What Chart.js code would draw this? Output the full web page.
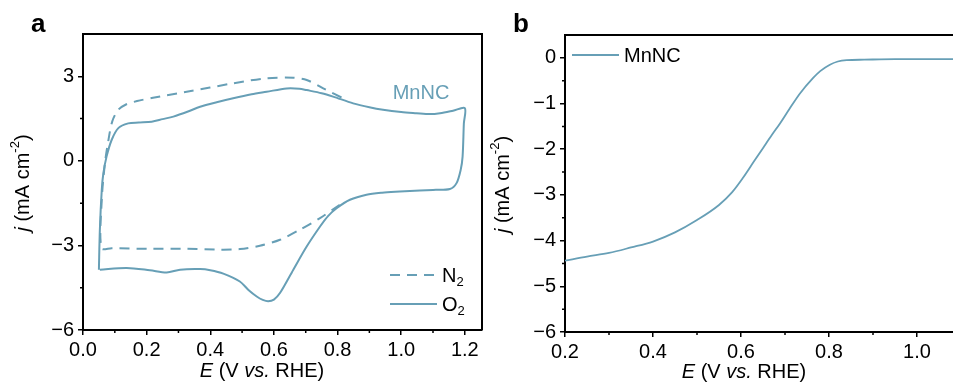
<!DOCTYPE html>
<html>
<head>
<meta charset="utf-8">
<script src="https://cdn.jsdelivr.net/npm/chart.js@4.4.1/dist/chart.umd.min.js"></script>
<style>
  html, body { margin: 0; padding: 0; background: #fff; overflow: hidden; width: 953px; height: 385px; }
  canvas { position: absolute; top: 0; }
  #cv { left: 0; }
  #lsv { left: 480px; }
</style>
</head>
<body>
<canvas id="cv" width="490" height="385"></canvas>
<canvas id="lsv" width="500" height="385"></canvas>
<script>
// Panel a: CV in O2 (closed loop)
const cvO2E = [0.050, 0.053, 0.059, 0.064, 0.074, 0.090, 0.111, 0.142, 0.175, 0.216, 0.250, 0.284, 0.330, 0.368, 0.420, 0.472, 0.530, 0.577, 0.640, 0.680, 0.703, 0.750, 0.786, 0.849, 0.900, 0.943, 1.000, 1.048, 1.090, 1.122, 1.163, 1.200,
               1.197, 1.193, 1.187, 1.174, 1.153, 1.100, 1.059, 0.996, 0.940, 0.891, 0.839, 0.797, 0.770, 0.745, 0.703, 0.661, 0.619, 0.600, 0.582, 0.565, 0.546, 0.520, 0.493, 0.441, 0.400, 0.368, 0.305, 0.263, 0.210, 0.137, 0.053];
const cvO2J = [-3.86, -2.44, -1.03, -0.44, 0.15, 0.74, 1.16, 1.33, 1.36, 1.39, 1.48, 1.57, 1.75, 1.92, 2.08, 2.22, 2.36, 2.45, 2.57, 2.56, 2.51, 2.40, 2.28, 2.04, 1.90, 1.81, 1.73, 1.69, 1.66, 1.69, 1.78, 1.87,
               1.33, 0.15, -0.32, -0.79, -1.00, -1.03, -1.05, -1.09, -1.13, -1.20, -1.38, -1.68, -1.96, -2.33, -3.04, -3.86, -4.69, -4.92, -4.98, -4.93, -4.81, -4.58, -4.28, -4.00, -3.88, -3.84, -3.86, -3.96, -3.88, -3.80, -3.86];

// Panel a: CV in N2 (only the part that differs from O2)
const cvN2E = [0.807, 0.745, 0.682, 0.619, 0.556, 0.493, 0.430, 0.326, 0.210, 0.090, 0.058, 0.059, 0.069, 0.080, 0.092, 0.110, 0.135, 0.170, 0.220, 0.326, 0.472, 0.577, 0.661, 0.703, 0.755, 0.828];
const cvN2J = [-1.56, -2.03, -2.44, -2.80, -3.01, -3.13, -3.15, -3.12, -3.12, -3.10, -3.10, -1.38, -0.08, 0.74, 1.40, 1.80, 2.00, 2.12, 2.24, 2.45, 2.75, 2.93, 2.95, 2.87, 2.57, 2.16];

// Panel b: LSV
const lsvE = [0.20, 0.25, 0.30, 0.35, 0.40, 0.45, 0.50, 0.55, 0.58, 0.605, 0.63, 0.651, 0.67, 0.689, 0.71, 0.734, 0.764, 0.78, 0.802, 0.82, 0.84, 0.88, 0.95, 1.10];
const lsvJ = [-4.44, -4.35, -4.27, -4.15, -4.02, -3.82, -3.55, -3.22, -2.94, -2.62, -2.26, -1.96, -1.69, -1.43, -1.12, -0.78, -0.44, -0.29, -0.15, -0.08, -0.05, -0.04, -0.03, -0.03];

// Tick labels
const xTicksA = [0, 0.2, 0.4, 0.6, 0.8, 1.0, 1.2];
const yTicksA = [-6, -3, 0, 3];
const xMinorA = [0.1, 0.3, 0.5, 0.7, 0.9, 1.1];
const yMinorA = [-4.5, -1.5, 1.5];
const xTicksB = [0.2, 0.4, 0.6, 0.8, 1.0];
const yTicksB = [0, -1, -2, -3, -4, -5, -6];
const xMinorB = [0.3, 0.5, 0.7, 0.9, 1.1];
const yMinorB = [-0.5, -1.5, -2.5, -3.5, -4.5, -5.5];

const lineColor = '#679fb6';
const FONT = '"Liberation Sans", Arial, sans-serif';
const TXT = 20;

function pts(xs, ys) {
    return xs.map((x, i) => ({ x: x, y: ys[i] }));
}

function minus(v, digits) {
    const s = digits ? Math.abs(v).toFixed(digits) : String(Math.abs(v));
    return v < 0 ? '\u2212' + s : s;
}

// Text made of pieces: {t, it, sup, sub}
function richWidth(ctx, parts, size) {
    let w = 0;
    parts.forEach(p => {
        const s = (p.sup || p.sub) ? size * 0.65 : size;
        ctx.font = (p.it ? 'italic ' : '') + s + 'px ' + FONT;
        w += ctx.measureText(p.t).width;
    });
    return w;
}

function drawRich(ctx, parts, x, y, size, color) {
    ctx.fillStyle = color || '#000';
    ctx.textBaseline = 'middle';
    ctx.textAlign = 'left';
    let cx = x;
    parts.forEach(p => {
        const s = (p.sup || p.sub) ? size * 0.65 : size;
        ctx.font = (p.it ? 'italic ' : '') + s + 'px ' + FONT;
        let dy = 0;
        if (p.sup) dy = -size * 0.38;
        if (p.sub) dy = size * 0.32;
        ctx.fillText(p.t, cx, y + dy);
        cx += ctx.measureText(p.t).width;
    });
}

function drawRichCentered(ctx, parts, x, y, size, color) {
    const w = richWidth(ctx, parts, size);
    drawRich(ctx, parts, x - w / 2, y, size, color);
}

const xTitle = [{ t: 'E', it: true }, { t: ' (V ' }, { t: 'vs.', it: true }, { t: ' RHE)' }];
const yTitle = [{ t: 'j', it: true }, { t: ' (mA cm' }, { t: '-2', sup: true }, { t: ')' }];

// frame, minor ticks, titles, legends
const decor = {
    id: 'decor',
    afterDraw(chart) {
        const ctx = chart.ctx;
        const a = chart.chartArea;
        const o = chart.options.plugins.decor;
        const xs = chart.scales.x, ys = chart.scales.y;
        ctx.save();
        ctx.strokeStyle = '#000';
        ctx.lineWidth = 2;
        ctx.beginPath();
        ctx.moveTo(a.left - 1, a.top);
        ctx.lineTo(a.right, a.top);
        ctx.lineTo(a.right, a.bottom);
        ctx.stroke();

        ctx.lineWidth = 1.5;
        ctx.beginPath();
        o.xMinor.forEach(v => {
            const px = xs.getPixelForValue(v);
            ctx.moveTo(px, a.bottom);
            ctx.lineTo(px, a.bottom + 3);
        });
        o.yMinor.forEach(v => {
            const py = ys.getPixelForValue(v);
            ctx.moveTo(a.left, py);
            ctx.lineTo(a.left - 3, py);
        });
        ctx.stroke();

        drawRichCentered(ctx, xTitle, o.xTitleX, o.xTitleY, TXT);
        ctx.save();
        ctx.translate(o.yTitleX, (a.top + a.bottom) / 2 + 1);
        ctx.rotate(-Math.PI / 2);
        drawRichCentered(ctx, yTitle, 0, 0, TXT);
        ctx.restore();

        ctx.font = 'bold 26px ' + FONT;
        ctx.fillStyle = '#000';
        ctx.textBaseline = 'alphabetic';
        ctx.fillText(o.panel, o.panelX, 32);

        o.legend.forEach(item => {
            ctx.strokeStyle = lineColor;
            ctx.lineWidth = 2;
            ctx.setLineDash(item.dash || []);
            ctx.beginPath();
            ctx.moveTo(item.x, item.y);
            ctx.lineTo(item.x + 47, item.y);
            ctx.stroke();
            ctx.setLineDash([]);
            drawRich(ctx, item.text, item.x + 52, item.y + 1, TXT, '#000');
        });
        if (o.note) {
            ctx.font = TXT + 'px ' + FONT;
            ctx.fillStyle = lineColor;
            ctx.textAlign = 'center';
            ctx.textBaseline = 'middle';
            ctx.fillText(o.note.t, o.note.x, o.note.y);
        }
        ctx.restore();
    }
};

function axis(min, max, ticks, digits, size, pad, isY) {
    return {
        type: 'linear',
        position: isY ? 'left' : 'bottom',
        min: min,
        max: max,
        afterBuildTicks: s => { s.ticks = ticks.map(v => ({ value: v })); },
        afterFit: s => { if (isY) s.width = size; else s.height = size; },
        border: { display: true, color: '#000', width: 2 },
        grid: { display: true, drawOnChartArea: false, drawTicks: true, tickLength: 5, color: '#000', lineWidth: 1.5 },
        ticks: {
            color: '#000',
            padding: pad,
            font: { family: FONT, size: TXT },
            maxRotation: 0,
            autoSkip: false,
            callback: v => minus(v, digits)
        },
        title: { display: false }
    };
}

// Panel a
new Chart(document.getElementById('cv').getContext('2d'), {
    type: 'scatter',
    data: {
        datasets: [{
            label: 'N2',
            data: pts(cvN2E, cvN2J),
            showLine: true,
            borderColor: lineColor,
            borderWidth: 2,
            borderDash: [10, 7],
            pointRadius: 0,
            tension: 0.3,
            fill: false
        }, {
            label: 'O2',
            data: pts(cvO2E, cvO2J),
            showLine: true,
            borderColor: lineColor,
            borderWidth: 2,
            pointRadius: 0,
            tension: 0.3,
            fill: false
        }]
    },
    options: {
        responsive: false,
        animation: false,
        layout: { padding: { top: 34, right: 8, left: 0, bottom: 0 } },
        scales: {
            x: axis(0, 1.254, xTicksA, 1, 55, 3, false),
            y: axis(-6, 4.5, yTicksA, 0, 83, 4, true)
        },
        plugins: {
            legend: { display: false },
            tooltip: { enabled: false },
            decor: {
                xMinor: xMinorA, yMinor: yMinorA,
                xTitleX: 262, xTitleY: 371, yTitleX: 23,
                panel: 'a', panelX: 31,
                legend: [
                    { x: 390, y: 275, dash: [10, 7], text: [{ t: 'N' }, { t: '2', sub: true }] },
                    { x: 390, y: 304, text: [{ t: 'O' }, { t: '2', sub: true }] }
                ],
                note: { t: 'MnNC', x: 421, y: 93 }
            }
        }
    },
    plugins: [decor]
});

// Panel b
new Chart(document.getElementById('lsv').getContext('2d'), {
    type: 'scatter',
    data: {
        datasets: [{
            label: 'MnNC',
            data: pts(lsvE, lsvJ),
            showLine: true,
            borderColor: lineColor,
            borderWidth: 1.8,
            pointRadius: 0,
            cubicInterpolationMode: 'monotone',
            fill: false
        }]
    },
    options: {
        responsive: false,
        animation: false,
        layout: { padding: { top: 35, right: 19, left: 0, bottom: 0 } },
        scales: {
            x: axis(0.2, 1.1, xTicksB, 1, 53, 3, false),
            y: axis(-6, 0.5, yTicksB, 0, 85, 4, true)
        },
        plugins: {
            legend: { display: false },
            tooltip: { enabled: false },
            decor: {
                xMinor: xMinorB, yMinor: yMinorB,
                xTitleX: 264, xTitleY: 372, yTitleX: 23,
                panel: 'b', panelX: 33,
                legend: [
                    { x: 92, y: 55, text: [{ t: 'MnNC' }] }
                ]
            }
        }
    },
    plugins: [decor]
});
</script>
</body>
</html>
